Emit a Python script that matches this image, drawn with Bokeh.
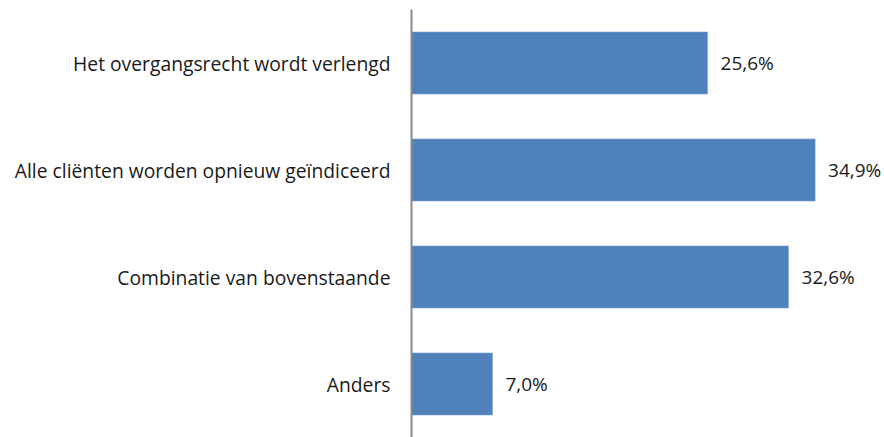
from bokeh.plotting import figure
from bokeh.models import ColumnDataSource, FactorRange, Range1d
from bokeh.core.properties import value
from bokeh.embed import file_html
from bokeh.resources import INLINE

categories = [
    "Het overgangsrecht wordt verlengd",
    "Alle cliënten worden opnieuw geïndiceerd",
    "Combinatie van bovenstaande",
    "Anders",
]
percentages = [25.6, 34.9, 32.6, 7.0]
value_labels = ["25,6%", "34,9%", "32,6%", "7,0%"]

FONT = "Open Sans"

source = ColumnDataSource(dict(cat=categories, val=percentages, lab=value_labels))

p = figure(
    width=884, height=437,
    y_range=FactorRange(*reversed(categories)),
    x_range=Range1d(0, 40.9),
    output_backend="svg", toolbar_location=None,
    min_border_left=411, min_border_right=0, min_border_top=9, min_border_bottom=0,
)
p.hbar(y="cat", right="val", left=0, height=0.58, source=source,
       fill_color="#4F81BD", line_color="#7FA3D0", line_width=0.6)
p.text(x="val", y="cat", text="lab", source=source, x_offset=13,
       text_baseline="middle", text_align="left",
       text_font=value(FONT), text_font_size="19px", text_color="#1a1a1a")

p.xaxis.visible = False
p.xgrid.visible = False
p.ygrid.visible = False
p.outline_line_color = None

ax = p.yaxis[0]
ax.axis_line_color = "#8a8a8a"
ax.axis_line_width = 2
ax.major_tick_line_color = None
ax.minor_tick_line_color = None
ax.major_tick_out = 0
ax.major_tick_in = 0
ax.major_label_standoff = 21
ax.major_label_text_font = FONT
ax.major_label_text_font_size = "19.3px"
ax.major_label_text_color = "#1a1a1a"

open("out.html", "w").write(file_html(p, INLINE))
